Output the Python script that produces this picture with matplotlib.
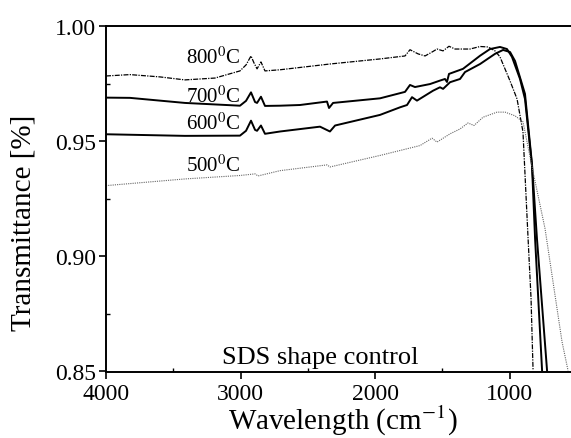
import matplotlib
matplotlib.use("Agg")
import matplotlib.pyplot as plt
from matplotlib.ticker import MultipleLocator

# FTIR transmittance spectra, SDS shape control, different calcination temperatures
wn_800 = [4000, 3822, 3599, 3413, 3190, 3004, 2959, 2922, 2900, 2877, 2848, 2818, 2706,
          2335, 1963, 1777, 1740, 1680, 1628, 1576, 1539, 1494, 1450, 1405, 1294, 1219,
          1160, 1108, 1071, 996, 944, 900, 862, 840, 825]
tr_800 = [0.9783, 0.9789, 0.9779, 0.9766, 0.9774, 0.9805, 0.9831, 0.9870, 0.9840, 0.9814,
          0.9844, 0.9805, 0.9810, 0.9835, 0.9857, 0.9870, 0.9897, 0.9879, 0.9870, 0.9887,
          0.9900, 0.9892, 0.9912, 0.9900, 0.9900, 0.9911, 0.9909, 0.9892, 0.9866, 0.9761,
          0.9683, 0.9540, 0.9076, 0.8816, 0.8504]

wn_700 = [4000, 3822, 3413, 3004, 2959, 2922, 2892, 2877, 2848, 2818, 2706, 2558, 2357,
          2342, 2312, 1963, 1777, 1740, 1703, 1591, 1517, 1480, 1465, 1450, 1346, 1219,
          1145, 1071, 1019, 982, 922, 885, 833, 810, 758]
tr_700 = [0.9689, 0.9688, 0.9666, 0.9654, 0.9675, 0.9712, 0.9670, 0.9666, 0.9693, 0.9653,
          0.9654, 0.9657, 0.9672, 0.9644, 0.9666, 0.9686, 0.9714, 0.9744, 0.9735, 0.9748,
          0.9763, 0.9770, 0.9757, 0.9792, 0.9814, 0.9871, 0.9900, 0.9909, 0.9900, 0.9866,
          0.9770, 0.9683, 0.9393, 0.9076, 0.8504]

wn_600 = [4000, 3413, 3004, 2959, 2922, 2892, 2877, 2848, 2818, 2706, 2409, 2335, 2297,
          1963, 1814, 1762, 1725, 1688, 1569, 1517, 1494, 1442, 1368, 1331, 1219, 1108,
          1048, 996, 959, 885, 833, 796, 721]
tr_600 = [0.9530, 0.9523, 0.9524, 0.9545, 0.9589, 0.9549, 0.9545, 0.9568, 0.9532, 0.9542,
          0.9563, 0.9542, 0.9568, 0.9614, 0.9647, 0.9657, 0.9691, 0.9676, 0.9719, 0.9734,
          0.9727, 0.9756, 0.9770, 0.9800, 0.9835, 0.9879, 0.9896, 0.9887, 0.9848, 0.9705,
          0.9401, 0.9076, 0.8504]

wn_500 = [4000, 3413, 3004, 2892, 2870, 2706, 2357, 2335, 1963, 1665, 1576, 1539, 1442,
          1368, 1309, 1264, 1197, 1093, 1033, 959, 900, 825, 736, 610, 565]
tr_500 = [0.9307, 0.9336, 0.9351, 0.9358, 0.9349, 0.9372, 0.9397, 0.9388, 0.9438, 0.9481,
          0.9513, 0.9496, 0.9532, 0.9553, 0.9579, 0.9568, 0.9604, 0.9626, 0.9626, 0.9610,
          0.9584, 0.9367, 0.9120, 0.8630, 0.8504]

labels = ["800$^0$C", "700$^0$C", "600$^0$C", "500$^0$C"]
label_y = [0.9866, 0.9696, 0.9579, 0.9397]

plt.rcParams["font.family"] = "Liberation Serif"
plt.rcParams["mathtext.fontset"] = "stix"

fig = plt.figure(figsize=(5.71, 4.39), dpi=100)
ax = fig.add_axes([106 / 571, 1 - 372.5 / 439, 465 / 571, 345.5 / 439])

ax.plot(wn_800, tr_800, color="black", lw=0.9, ls=(0, (4, 1, 1, 1)))
ax.plot(wn_700, tr_700, color="black", lw=1.4)
ax.plot(wn_600, tr_600, color="black", lw=1.4)
ax.plot(wn_500, tr_500, color="#666666", lw=0.8, ls=(0, (1, 1)))

for txt, yy in zip(labels, label_y):
    ax.text(3405, yy, txt, fontsize=15, ha="left", va="center")

ax.text(3135, 0.8537, "SDS shape control", fontsize=19, ha="left", va="baseline")

ax.set_xlim(4000, 543)
ax.set_ylim(0.85, 1.00)
ax.xaxis.set_major_locator(MultipleLocator(1000))
ax.xaxis.set_minor_locator(MultipleLocator(500))
ax.yaxis.set_major_locator(MultipleLocator(0.05))
ax.yaxis.set_minor_locator(MultipleLocator(0.025))
ax.yaxis.set_major_formatter(plt.FormatStrFormatter("%.2f"))

ax.tick_params(which="major", direction="out", length=5, width=1.2, labelsize=17)
ax.tick_params(which="minor", direction="in", length=3, width=1)
ax.tick_params(axis="y", which="major", pad=2)
ax.tick_params(axis="x", which="major", pad=3)

for s in ["left", "bottom", "top"]:
    ax.spines[s].set_linewidth(1.4)
ax.spines["right"].set_visible(False)

fig.text(343 / 571, 1 - 430 / 439, "Wavelength (cm$^{-1}$)", fontsize=21,
         ha="center", va="baseline")
fig.text(24 / 571, 1 - 222.5 / 439, "Transmittance [%]", fontsize=21,
         rotation=90, ha="center", va="center")

fig.savefig("out.png", dpi=100)
